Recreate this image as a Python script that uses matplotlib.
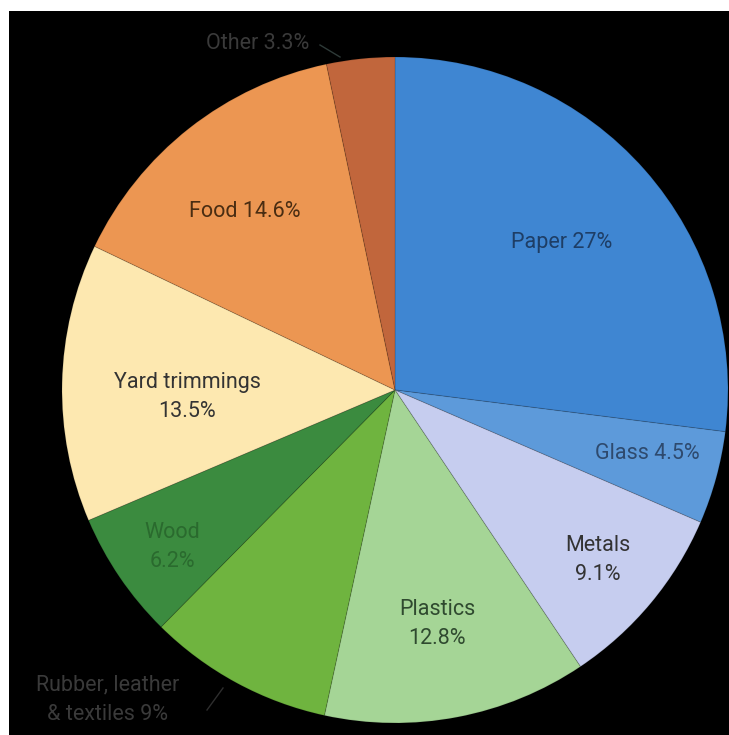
import matplotlib
matplotlib.use("Agg")
import matplotlib.pyplot as plt
from matplotlib.patches import Rectangle

# composition of municipal solid waste (%)
categories = ["Paper", "Glass", "Metals", "Plastics", "Rubber, leather\n& textiles",
              "Wood", "Yard trimmings", "Food", "Other"]
shares = [27.0, 4.5, 9.1, 12.8, 9.0, 6.2, 13.5, 14.6, 3.3]
labels = ["Paper 27%", "Glass 4.5%", "Metals\n9.1%", "Plastics\n12.8%",
          "Rubber, leather\n& textiles 9%", "Wood\n6.2%", "Yard trimmings\n13.5%",
          "Food 14.6%", "Other 3.3%"]

slice_colors = ["#3f86d2", "#5d9ada", "#c6cdef", "#a5d596", "#6fb43f",
                "#3b8b3f", "#fde8b0", "#ec9652", "#c1663c"]
text_colors = ["#1e3e66", "#2e4a6e", "#333333", "#2f4a2f", "#3a3a3a",
               "#2a6a2e", "#333333", "#4a2d12", "#3a3a3a"]
# label centres in pixel coordinates (x, y from top)
label_pos = [(562, 242), (647, 453), (598, 560), (437, 624), (108, 700),
             (172, 547), (187, 397), (245, 211), (258, 43)]

W, H = 729, 735
fig = plt.figure(figsize=(W / 100, H / 100), dpi=100, facecolor="white")
ax = fig.add_axes([0, 0, 1, 1])

# black background panel
ax.add_patch(Rectangle((9, 0), W - 9, H - 11, facecolor="black", edgecolor="none", zorder=0))

cx, cy, r = 395, H - 390, 333
wedges, _ = ax.pie(
    shares,
    colors=slice_colors,
    startangle=90,
    counterclock=False,
    center=(cx, cy),
    radius=r,
    frame=True,
    wedgeprops={"linewidth": 0.8, "edgecolor": (0, 0, 0, 0.12)},
)
ax.set_xlim(0, W)
ax.set_ylim(0, H)
ax.set_aspect("equal")
ax.axis("off")

for lab, (x, y), c in zip(labels, label_pos, text_colors):
    ax.text(x, H - y, lab, ha="center", va="center", color=c, fontsize=15.5,
            family=["Roboto", "DejaVu Sans"], linespacing=1.55, zorder=5)

# short leader lines for outside labels
ax.plot([320, 340], [H - 45, H - 57], color="#2e3a38", linewidth=1, zorder=5)
ax.plot([207, 223], [H - 710, H - 688], color="#2e2e2e", linewidth=1, zorder=5)

fig.savefig("out.png", dpi=100, facecolor="white")
